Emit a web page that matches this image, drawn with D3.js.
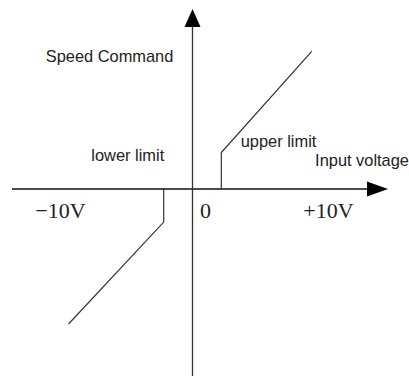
<!DOCTYPE html>
<html>
<head>
<meta charset="utf-8">
<script src="https://cdn.jsdelivr.net/npm/d3@7"></script>
<style>
  html, body { margin: 0; padding: 0; background: #fff; }
  svg { display: block; }
</style>
</head>
<body>
<svg id="chart" width="409" height="376"></svg>
<script>
// Input voltage (V) vs speed command, with a dead band around 0 V.
const upperBranch = [
  { v: 2.15, s: 0 },
  { v: 2.15, s: 2.7 },
  { v: 8.9, s: 10.2 }
];
const lowerBranch = [
  { v: -2.15, s: 0 },
  { v: -2.15, s: -2.45 },
  { v: -9.25, s: -10.0 }
];
const tickValues = [-10, 0, 10];
const tickLabels = ["\u221210V", "0", "+10V"];
const textLabels = [
  { text: "Speed Command", v: -10.95, s: 9.4 },
  { text: "lower limit", v: -7.55, s: 2.05 },
  { text: "upper limit", v: 3.6, s: 3.1 },
  { text: "Input voltage", v: 9.15, s: 1.7 }
];

const svg = d3.select("#chart");
const x = d3.scaleLinear().domain([-10, 10]).range([58.5, 326.5]);
const y = d3.scaleLinear().domain([-10, 10]).range([324, 54]);

const x0 = x(0), y0 = y(0);

// axes
svg.append("line")
  .attr("x1", 12).attr("x2", 372)
  .attr("y1", y0).attr("y2", y0)
  .attr("stroke", "#111").attr("stroke-width", 1.6);
svg.append("path")
  .attr("d", `M388,${y0} L367,${y0 - 7.5} L367,${y0 + 7.5} Z`)
  .attr("fill", "#000");

svg.append("line")
  .attr("x1", x0).attr("x2", x0)
  .attr("y1", 376).attr("y2", 24)
  .attr("stroke", "#333").attr("stroke-width", 1.3);
svg.append("path")
  .attr("d", `M${x0},9 L${x0 - 8},27 L${x0 + 8},27 Z`)
  .attr("fill", "#000");

// characteristic curve
const line = d3.line().x(d => x(d.v)).y(d => y(d.s));
[upperBranch, lowerBranch].forEach(branch => {
  svg.append("path")
    .attr("d", line(branch))
    .attr("fill", "none")
    .attr("stroke", "#333")
    .attr("stroke-width", 1.2);
});

// tick labels
svg.selectAll("text.tick")
  .data(tickValues)
  .join("text")
  .attr("class", "tick")
  .attr("x", (d, i) => i === 1 ? x(d) + 13 : x(d) + 2)
  .attr("y", 218)
  .attr("text-anchor", "middle")
  .attr("font-family", "'Liberation Serif', 'DejaVu Serif', serif")
  .attr("font-size", 22)
  .attr("fill", "#222")
  .text((d, i) => tickLabels[i]);

// annotations
svg.selectAll("text.note")
  .data(textLabels)
  .join("text")
  .attr("class", "note")
  .attr("x", d => x(d.v))
  .attr("y", d => y(d.s))
  .attr("font-family", "'Liberation Sans', Arial, sans-serif")
  .attr("font-size", 16.4)
  .attr("fill", "#222")
  .text(d => d.text);
</script>
</body>
</html>
